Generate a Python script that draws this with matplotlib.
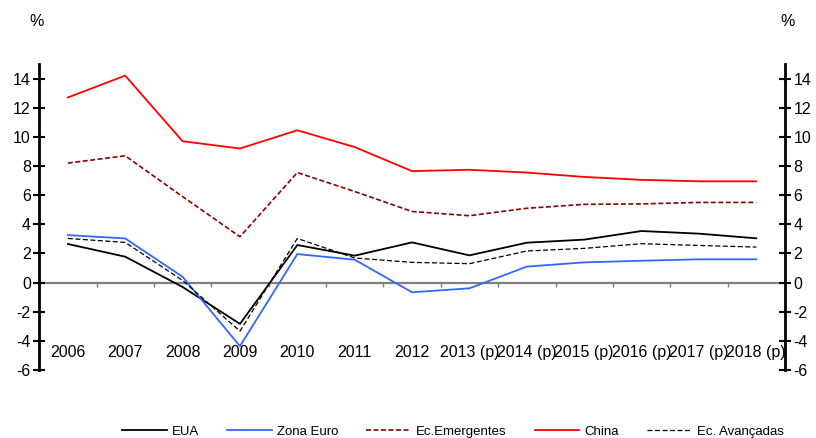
import matplotlib
matplotlib.use("Agg")
import matplotlib.pyplot as plt
import numpy as np

categories = ["2006", "2007", "2008", "2009", "2010", "2011", "2012",
              "2013 (p)", "2014 (p)", "2015 (p)", "2016 (p)", "2017 (p)", "2018 (p)"]
eua = [2.65, 1.78, -0.3, -2.83, 2.58, 1.85, 2.76, 1.87, 2.74, 2.95, 3.54, 3.36, 3.04]
zona_euro = [3.26, 3.03, 0.4, -4.36, 1.96, 1.57, -0.66, -0.39, 1.1, 1.39, 1.5, 1.6, 1.6]
ec_emergentes = [8.2, 8.7, 5.9, 3.15, 7.55, 6.25, 4.88, 4.59, 5.1, 5.37, 5.4, 5.5, 5.5]
china = [12.7, 14.2, 9.7, 9.2, 10.45, 9.3, 7.65, 7.74, 7.55, 7.25, 7.05, 6.95, 6.95]
ec_avancadas = [3.03, 2.76, 0.15, -3.33, 3.03, 1.69, 1.39, 1.3, 2.17, 2.35, 2.67, 2.55, 2.44]
yticks = list(range(-6, 15, 2))

plt.rcParams['font.family'] = ['Liberation Sans', 'DejaVu Sans']

fig = plt.figure(figsize=(8.16, 4.38), dpi=100)
ax = fig.add_axes([0.048, 0.155, 0.914, 0.699])
x = np.arange(len(categories))

ax.plot(x, eua, color='black', lw=1.3, label='EUA')
ax.plot(x, zona_euro, color='#3366ff', lw=1.3, label='Zona Euro')
ax.plot(x, ec_emergentes, color='#8b0000', lw=1.2, ls=(0, (3, 1.5)), label='Ec.Emergentes')
ax.plot(x, china, color='#ff0000', lw=1.3, label='China')
ax.plot(x, ec_avancadas, color='black', lw=0.9, ls=(0, (4, 2)), label='Ec. Avançadas')

ax.set_xlim(-0.5, len(categories) - 0.5)
ax.set_ylim(-6, 15)

for s in ['top', 'right']:
    ax.spines[s].set_visible(False)
ax.spines['left'].set_linewidth(2)
ax.spines['bottom'].set_position(('data', 0))
ax.spines['bottom'].set_color('#808080')
ax.spines['bottom'].set_linewidth(1.6)
ax.spines['bottom'].set_zorder(0)

ax.set_xticks(np.arange(-0.5, len(categories) + 0.5, 1))
ax.set_xticklabels([])
ax.tick_params(axis='x', direction='out', length=3, color='#808080', width=1)

fs = 11.5
ax.set_yticks(yticks)
ax.set_yticklabels([str(v) for v in yticks])
ax.tick_params(axis='y', direction='inout', length=8, width=1.5, labelsize=fs, pad=2)

axr = ax.twinx()
axr.set_ylim(-6, 15)
for s in ['top', 'left', 'bottom']:
    axr.spines[s].set_visible(False)
axr.spines['right'].set_linewidth(2)
axr.set_yticks(yticks)
axr.set_yticklabels([str(v) for v in yticks])
axr.tick_params(axis='y', direction='inout', length=8, width=1.5, labelsize=fs, pad=2)

for i, c in enumerate(categories):
    ax.text(i, -4.8, c, ha='center', va='center', fontsize=fs)

fig.text(37 / 816, 1 - 22 / 438, '%', ha='center', va='center', fontsize=fs)
fig.text(788 / 816, 1 - 22 / 438, '%', ha='center', va='center', fontsize=fs)

leg = fig.legend(loc='lower center', bbox_to_anchor=(0.555, -0.027), ncol=5, frameon=False,
                 fontsize=9.5, handlelength=3.4, columnspacing=2.1, handletextpad=0.4)

fig.savefig('out.png', dpi=100)
